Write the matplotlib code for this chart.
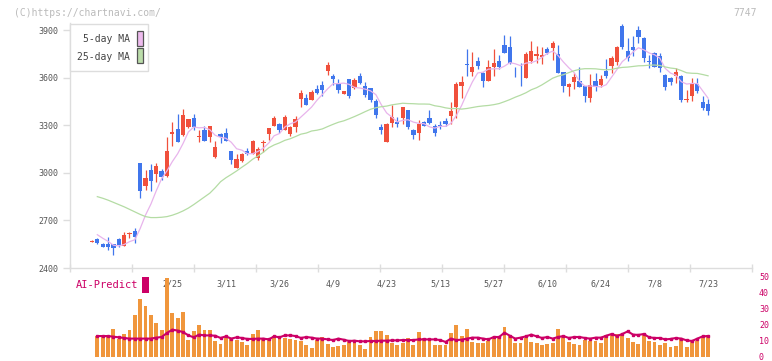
import numpy as np
import matplotlib
matplotlib.use('Agg')
import matplotlib.pyplot as plt
from matplotlib.patches import Rectangle

plt.rcParams['font.family'] = ['DejaVu Sans Mono']

nan = np.nan

# daily candles (index 0 = oldest)
opens = [2567, 2583, 2554, 2554, 2549, 2583, 2539, 2612, 2634, 3061,
         2918, 3016, 2993, 3010, 2979, 3244, 3275, 3237, 3288, 3347,
         3227, 3269, 3227, 3101, 3248, 3252, 3136, 3031, 3073, 3136,
         3122, 3094, 3187, 3242, 3296, 3311, 3271, 3248, 3290, 3467,
         3475, 3458, 3526, 3551, 3641, 3609, 3559, 3498, 3589, 3536,
         3609, 3547, 3534, 3452, 3290, 3195, 3317, 3321, 3347, 3395,
         3269, 3252, 3319, 3345, 3298, 3298, 3326, 3359, 3416, 3549,
         3683, 3637, 3704, 3627, 3580, 3669, 3704, 3805, 3793, 3635,
         3635, 3599, 3704, 3738, 3732, 3780, 3789, 3749, 3635, 3542,
         3572, 3578, 3547, 3473, 3578, 3555, 3641, 3675, 3700, 3925,
         3768, 3795, 3900, 3848, 3700, 3757, 3736, 3620, 3599, 3612,
         3610, 3462, 3486, 3563, 3446, 3437]
highs = [2574, 2588, 2556, 2594, 2554, 2588, 2627, 2627, 2650, 3061,
         3016, 3054, 3063, 3023, 3225, 3319, 3370, 3404, 3342, 3370,
         3269, 3294, 3294, 3199, 3254, 3282, 3136, 3120, 3128, 3155,
         3210, 3162, 3210, 3282, 3357, 3315, 3364, 3294, 3357, 3521,
         3500, 3521, 3551, 3578, 3698, 3622, 3593, 3517, 3593, 3597,
         3630, 3574, 3534, 3463, 3307, 3317, 3427, 3353, 3414, 3395,
         3279, 3332, 3328, 3395, 3307, 3328, 3345, 3446, 3574, 3610,
         3780, 3761, 3730, 3639, 3711, 3778, 3742, 3869, 3862, 3669,
         3690, 3763, 3831, 3803, 3795, 3795, 3831, 3806, 3635, 3564,
         3629, 3665, 3547, 3622, 3629, 3616, 3715, 3736, 3799, 3938,
         3852, 3862, 3925, 3858, 3742, 3763, 3757, 3624, 3606, 3662,
         3616, 3521, 3601, 3601, 3483, 3465]
lows = [2565, 2552, 2530, 2516, 2480, 2533, 2539, 2591, 2558, 2842,
        2890, 2884, 2943, 2958, 2975, 3170, 3195, 3231, 3280, 3269,
        3195, 3202, 3195, 3095, 3189, 3202, 3054, 3031, 3069, 3113,
        3117, 3084, 3132, 3210, 3294, 3252, 3271, 3231, 3256, 3416,
        3431, 3458, 3496, 3483, 3616, 3553, 3505, 3498, 3473, 3526,
        3563, 3479, 3446, 3349, 3244, 3195, 3290, 3290, 3307, 3277,
        3216, 3206, 3296, 3311, 3233, 3275, 3298, 3307, 3349, 3475,
        3612, 3612, 3658, 3542, 3580, 3612, 3658, 3757, 3686, 3606,
        3549, 3599, 3694, 3692, 3686, 3749, 3711, 3627, 3511, 3483,
        3530, 3542, 3448, 3448, 3517, 3542, 3601, 3627, 3679, 3780,
        3704, 3738, 3816, 3700, 3662, 3669, 3633, 3523, 3553, 3566,
        3448, 3446, 3450, 3505, 3395, 3364]
closes = [2572, 2558, 2533, 2533, 2526, 2543, 2606, 2620, 2594, 2884,
          2966, 2949, 3042, 2974, 3136, 3256, 3195, 3364, 3338, 3290,
          3235, 3202, 3294, 3164, 3227, 3202, 3080, 3086, 3122, 3117,
          3200, 3149, 3191, 3282, 3347, 3273, 3353, 3290, 3340, 3502,
          3431, 3513, 3505, 3521, 3679, 3591, 3521, 3517, 3483, 3584,
          3568, 3490, 3458, 3364, 3269, 3311, 3353, 3307, 3414, 3290,
          3237, 3311, 3296, 3315, 3252, 3294, 3309, 3389, 3559, 3572,
          3681, 3665, 3675, 3580, 3667, 3692, 3669, 3757, 3690, 3633,
          3633, 3749, 3768, 3751, 3742, 3757, 3820, 3631, 3547, 3559,
          3604, 3542, 3483, 3553, 3542, 3591, 3610, 3723, 3793, 3795,
          3726, 3774, 3858, 3726, 3698, 3669, 3662, 3540, 3574, 3637,
          3462, 3464, 3563, 3515, 3410, 3391]

ma5 = [nan, 2610, 2588, 2568, 2544, 2539, 2548, 2566, 2578, 2649,
       2734, 2803, 2887, 2963, 3013, 3071, 3121, 3185, 3258, 3289,
       3284, 3286, 3272, 3237, 3224, 3218, 3193, 3152, 3143, 3121,
       3121, 3135, 3156, 3188, 3234, 3248, 3289, 3309, 3321, 3352,
       3383, 3415, 3458, 3494, 3530, 3562, 3563, 3566, 3558, 3539,
       3535, 3528, 3517, 3493, 3430, 3378, 3351, 3321, 3331, 3335,
       3320, 3312, 3310, 3290, 3282, 3294, 3293, 3312, 3361, 3425,
       3502, 3573, 3630, 3635, 3654, 3656, 3657, 3673, 3695, 3688,
       3676, 3692, 3695, 3707, 3729, 3753, 3768, 3740, 3699, 3663,
       3632, 3577, 3547, 3548, 3545, 3542, 3556, 3604, 3652, 3702,
       3729, 3762, 3789, 3776, 3756, 3745, 3723, 3659, 3629, 3616,
       3575, 3560, 3564, 3563, 3517, 3471]
ma25 = [nan, 2850, 2840, 2828, 2814, 2800, 2786, 2770, 2754, 2738,
        2724, 2718, 2718, 2720, 2724, 2733, 2745, 2760, 2778, 2800,
        2824, 2848, 2872, 2906, 2944, 2969, 2990, 3012, 3036, 3059,
        3086, 3107, 3130, 3158, 3176, 3189, 3205, 3215, 3229, 3244,
        3251, 3264, 3269, 3277, 3292, 3306, 3319, 3328, 3341, 3355,
        3370, 3386, 3401, 3411, 3417, 3421, 3429, 3434, 3439, 3437,
        3436, 3434, 3434, 3433, 3423, 3418, 3410, 3405, 3406, 3402,
        3406, 3412, 3418, 3422, 3425, 3430, 3437, 3449, 3462, 3477,
        3490, 3505, 3524, 3537, 3555, 3576, 3597, 3610, 3619, 3632,
        3644, 3653, 3657, 3657, 3656, 3652, 3650, 3652, 3660, 3665,
        3667, 3671, 3675, 3676, 3679, 3680, 3677, 3668, 3661, 3657,
        3645, 3631, 3628, 3627, 3620, 3612]

volume = [nan, 12.9, 12.9, 12.9, 17.7, 11.0, 14.6, 17.1, 26.5, 36.0,
          31.7, 26.5, 21.5, 17.1, 49.6, 27.3, 24.6, 27.9, 10.4, 16.0,
          20.2, 17.1, 16.7, 9.8, 8.3, 13.1, 11.0, 10.4, 9.2, 7.3,
          14.4, 17.1, 11.0, 12.1, 13.1, 13.1, 12.1, 11.5, 10.4, 9.8,
          7.7, 5.6, 10.4, 12.5, 8.3, 6.5, 6.7, 7.7, 9.4, 9.4,
          7.3, 5.2, 12.5, 16.0, 16.0, 14.0, 9.0, 7.3, 9.0, 12.1,
          7.7, 15.8, 12.1, 10.8, 7.7, 7.7, 7.3, 15.2, 20.2, 13.3,
          17.7, 9.6, 9.0, 9.0, 10.2, 12.1, 12.1, 19.0, 13.3, 9.0,
          9.0, 12.1, 9.6, 9.0, 7.7, 8.3, 9.0, 17.7, 13.1, 9.6,
          8.3, 7.7, 10.8, 10.2, 10.2, 9.0, 14.0, 14.0, 14.2, 14.0,
          12.1, 9.6, 8.3, 14.0, 10.2, 9.6, 7.7, 9.0, 6.5, 7.1,
          11.5, 6.5, 9.2, 10.2, 12.1, 14.0]
ai_predict = [nan, 13.1, 13.1, 13.1, 12.7, 12.3, 11.9, 11.5, 11.5, 11.5,
              11.5, 11.5, 12.1, 12.5, 15.0, 17.1, 16.5, 15.6, 13.5, 12.3,
              14.0, 13.5, 13.5, 13.3, 11.9, 12.9, 11.5, 12.3, 11.9, 11.3,
              11.3, 11.5, 11.5, 11.0, 12.9, 12.3, 13.5, 13.5, 13.1, 11.9,
              12.5, 12.1, 11.5, 11.5, 11.0, 10.6, 11.5, 10.8, 10.0, 10.2,
              9.8, 9.8, 10.0, 10.0, 10.2, 10.2, 10.4, 10.4, 10.6, 10.6,
              10.6, 11.0, 11.0, 11.0, 11.0, 10.6, 9.4, 11.5, 10.6, 10.8,
              11.5, 12.1, 12.1, 11.5, 11.0, 12.5, 12.5, 15.2, 13.3, 11.5,
              12.1, 12.9, 14.0, 12.9, 11.9, 12.5, 11.5, 12.5, 13.1, 11.9,
              12.5, 12.5, 11.9, 11.5, 12.1, 12.1, 13.3, 14.4, 13.1, 14.4,
              16.0, 14.0, 13.8, 14.4, 12.3, 11.9, 11.9, 11.0, 11.3, 11.9,
              11.5, 10.4, 10.0, 11.5, 12.9, 13.1]

date_labels = ['2/25', '3/11', '3/26', '4/9', '4/23', '5/13',
               '5/27', '6/10', '6/24', '7/8', '7/23']
date_index = [15, 25, 35, 45, 55, 65, 75, 85, 95, 105, 115]
price_ticks = [2400, 2700, 3000, 3300, 3600, 3900]
vol_ticks = [0, 10, 20, 30, 40, 50]

RED = '#f0503c'
BLUE = '#4076ec'
GRID = '#dddddd'
TXT = '#555555'
CRIMSON = '#cc0066'

W, H = 772, 361
fig = plt.figure(figsize=(W / 100, H / 100), dpi=100)
ax = fig.add_axes([70 / W, 1 - 268 / H, 682 / W, 245 / H])
vax = fig.add_axes([70 / W, 1 - 357 / H, 682 / W, 80 / H])
xlim = (-4.1, 123.2)

# candles
o = np.array(opens, float)
c = np.array(closes, float)
x = np.arange(len(c))
cols = np.where(c >= o, RED, BLUE)
ax.vlines(x, lows, highs, colors=cols, linewidth=0.9, zorder=2)
ax.bar(x, np.maximum(np.abs(c - o), 5), bottom=np.minimum(o, c),
       width=0.8, color=cols, linewidth=0, zorder=3)
ax.plot(x, ma5, color='#e8b4ec', lw=0.9, zorder=4)
ax.plot(x, ma25, color='#b4dca4', lw=0.9, zorder=4)

ax.set_xlim(*xlim)
ax.set_ylim(2400, 3945)
ax.set_yticks(price_ticks)
ax.set_xticks(date_index)
ax.set_xticklabels(date_labels)
ax.set_xticks(np.linspace(xlim[0], xlim[1], 12), minor=True)
ax.tick_params(axis='x', which='major', length=0, pad=8, labelsize=6, labelcolor=TXT)
ax.tick_params(axis='x', which='minor', direction='inout', length=6, width=1, color=GRID)
ax.tick_params(axis='y', length=5, width=1, color=GRID, pad=3, labelsize=6, labelcolor=TXT)
for s in ['top', 'right']:
    ax.spines[s].set_visible(False)
for s in ['left', 'bottom']:
    ax.spines[s].set_color(GRID)
    ax.spines[s].set_linewidth(1)

# legend box
fig.add_artist(Rectangle((70 / W, 1 - 71 / H), 78 / W, 47 / H, transform=fig.transFigure,
                         facecolor='white', edgecolor=GRID, lw=1, zorder=5))
fig.text(130 / W, 1 - 39.5 / H, '5-day MA', ha='right', va='center', fontsize=7, color='#444444', zorder=6)
fig.text(130 / W, 1 - 56.5 / H, '25-day MA', ha='right', va='center', fontsize=7, color='#444444', zorder=6)
fig.add_artist(Rectangle((136.5 / W, 1 - 46 / H), 6 / W, 15 / H, transform=fig.transFigure,
                         facecolor='#eebbee', edgecolor='#555555', lw=0.9, zorder=6))
fig.add_artist(Rectangle((136.5 / W, 1 - 63 / H), 6 / W, 15 / H, transform=fig.transFigure,
                         facecolor='#bbddaa', edgecolor='#555555', lw=0.9, zorder=6))

# volume + AI predict
vax.bar(x, volume, width=0.72, color='#f0963c', linewidth=0)
vax.plot(x, ai_predict, color=CRIMSON, lw=1.5, marker='s', ms=1.8)
vax.set_xlim(*xlim)
vax.set_ylim(0, 50)
vax.set_xticks([])
vax.yaxis.tick_right()
vax.set_yticks(vol_ticks)
vax.tick_params(axis='y', length=0, pad=5, labelsize=6, labelcolor=CRIMSON)
for lbl in vax.get_yticklabels():
    lbl.set_verticalalignment('center_baseline')
for s in vax.spines.values():
    s.set_visible(False)
vax.patch.set_alpha(0)

fig.text(76 / W, 1 - 285.5 / H, 'AI-Predict', va='center', fontsize=7.5, color=CRIMSON)
fig.add_artist(Rectangle((142 / W, 1 - 293 / H), 6.5 / W, 16 / H, transform=fig.transFigure,
                         facecolor=CRIMSON, edgecolor='none'))

fig.text(14 / W, 1 - 12.5 / H, '(C)https://chartnavi.com/', va='center', fontsize=7, color='#bbbbbb')
fig.text(757 / W, 1 - 12.5 / H, '7747', ha='right', va='center', fontsize=7, color='#bbbbbb')

fig.savefig('out.png', dpi=100)
